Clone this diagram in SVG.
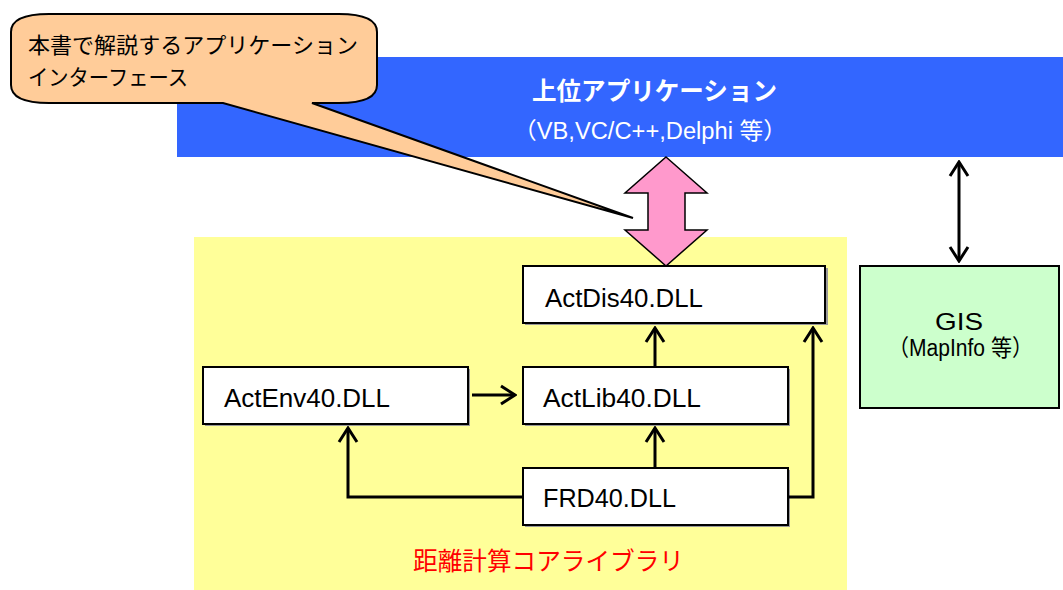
<svg xmlns="http://www.w3.org/2000/svg" width="1063" height="590" viewBox="0 0 1063 590">
<style>
.box{fill:#ffffff;stroke:#000;stroke-width:2}
.shadow{fill:#9a9a9a}
.dll{font-family:"Liberation Sans",Arial,sans-serif;font-size:25px;fill:#000}
.jp{font-family:"Liberation Sans","Noto Sans CJK JP",sans-serif}
.conn{fill:none;stroke:#000;stroke-width:3}
</style>
<defs>
<marker id="chev" markerUnits="userSpaceOnUse" viewBox="-16 -11 18 22" refX="0" refY="0" markerWidth="18" markerHeight="22" orient="auto-start-reverse">
<path d="M-14,-9 L0,0 L-14,9" fill="none" stroke="#000" stroke-width="3"/>
</marker>
</defs>
<rect width="1063" height="590" fill="#ffffff"/>
<g id="core-library">
<rect x="194" y="237" width="653" height="353" fill="#ffff99"/>
<text class="jp" x="413" y="570" font-size="25" fill="#ff0000" textLength="271" lengthAdjust="spacingAndGlyphs">距離計算コアライブラリ</text>
</g>
<g id="upper-app">
<rect x="177" y="57" width="886" height="100" fill="#3366ff"/>
<text class="jp" x="532" y="100" font-size="25" font-weight="bold" fill="#ffffff" textLength="245" lengthAdjust="spacingAndGlyphs">上位アプリケーション</text>
<text class="jp" x="513" y="139" font-size="23" fill="#ffffff" textLength="274" lengthAdjust="spacingAndGlyphs">（VB,VC/C++,Delphi 等）</text>
</g>
<g id="gis">
<rect x="860" y="266" width="199" height="142" fill="#ccffcc" stroke="#000" stroke-width="2"/>
<text class="jp" x="935" y="330" font-size="24" fill="#000" textLength="48" lengthAdjust="spacingAndGlyphs">GIS</text>
<text class="jp" x="888" y="356" font-size="23" fill="#000" textLength="145" lengthAdjust="spacingAndGlyphs">（MapInfo 等）</text>
</g>
<g id="actdis">
<rect class="shadow" x="525" y="268" width="303" height="57"/>
<rect class="box" x="523" y="266" width="302" height="57"/>
<text class="dll" x="545" y="307" textLength="158" lengthAdjust="spacingAndGlyphs">ActDis40.DLL</text>
</g>
<g id="actenv">
<rect class="shadow" x="205" y="369" width="265" height="57"/>
<rect class="box" x="203" y="367" width="265" height="57"/>
<text class="dll" x="224" y="407" textLength="166" lengthAdjust="spacingAndGlyphs">ActEnv40.DLL</text>
</g>
<g id="actlib">
<rect class="shadow" x="525" y="369" width="265" height="57"/>
<rect class="box" x="523" y="367" width="265" height="57"/>
<text class="dll" x="543" y="407" textLength="158" lengthAdjust="spacingAndGlyphs">ActLib40.DLL</text>
</g>
<g id="frd">
<rect class="shadow" x="525" y="470" width="265" height="57"/>
<rect class="box" x="523" y="468" width="265" height="57"/>
<text class="dll" x="543" y="507" textLength="133" lengthAdjust="spacingAndGlyphs">FRD40.DLL</text>
</g>
<g id="connectors">
<line class="conn" x1="472" y1="395" x2="515" y2="395" marker-end="url(#chev)"/>
<line class="conn" x1="655" y1="366" x2="655" y2="328" marker-end="url(#chev)"/>
<line class="conn" x1="655" y1="467" x2="655" y2="428" marker-end="url(#chev)"/>
<polyline class="conn" points="522,497 348,497 348,428" marker-end="url(#chev)"/>
<polyline class="conn" points="789,497 813,497 813,328" marker-end="url(#chev)"/>
<line class="conn" x1="959" y1="162" x2="959" y2="261" marker-start="url(#chev)" marker-end="url(#chev)"/>
<polygon points="666,157 707,193 685,193 685,230 707,230 666,266 625,230 648,230 648,193 625,193" fill="#ff99cc" stroke="#000" stroke-width="1.5" stroke-linejoin="miter"/>
</g>
<g id="callout">
<path d="M49,14 H339 Q377,14 377,32 V85 Q377,103 339,103 H312 L633,218 L223,103 H49 Q11,103 11,85 V32 Q11,14 49,14 Z" fill="#ffcc99" stroke="#000" stroke-width="2"/>
<text class="jp" x="28" y="53" font-size="22" fill="#000" textLength="330" lengthAdjust="spacingAndGlyphs">本書で解説するアプリケーション</text>
<text class="jp" x="28" y="85" font-size="22" fill="#000" textLength="160" lengthAdjust="spacingAndGlyphs">インターフェース</text>
</g>
</svg>
